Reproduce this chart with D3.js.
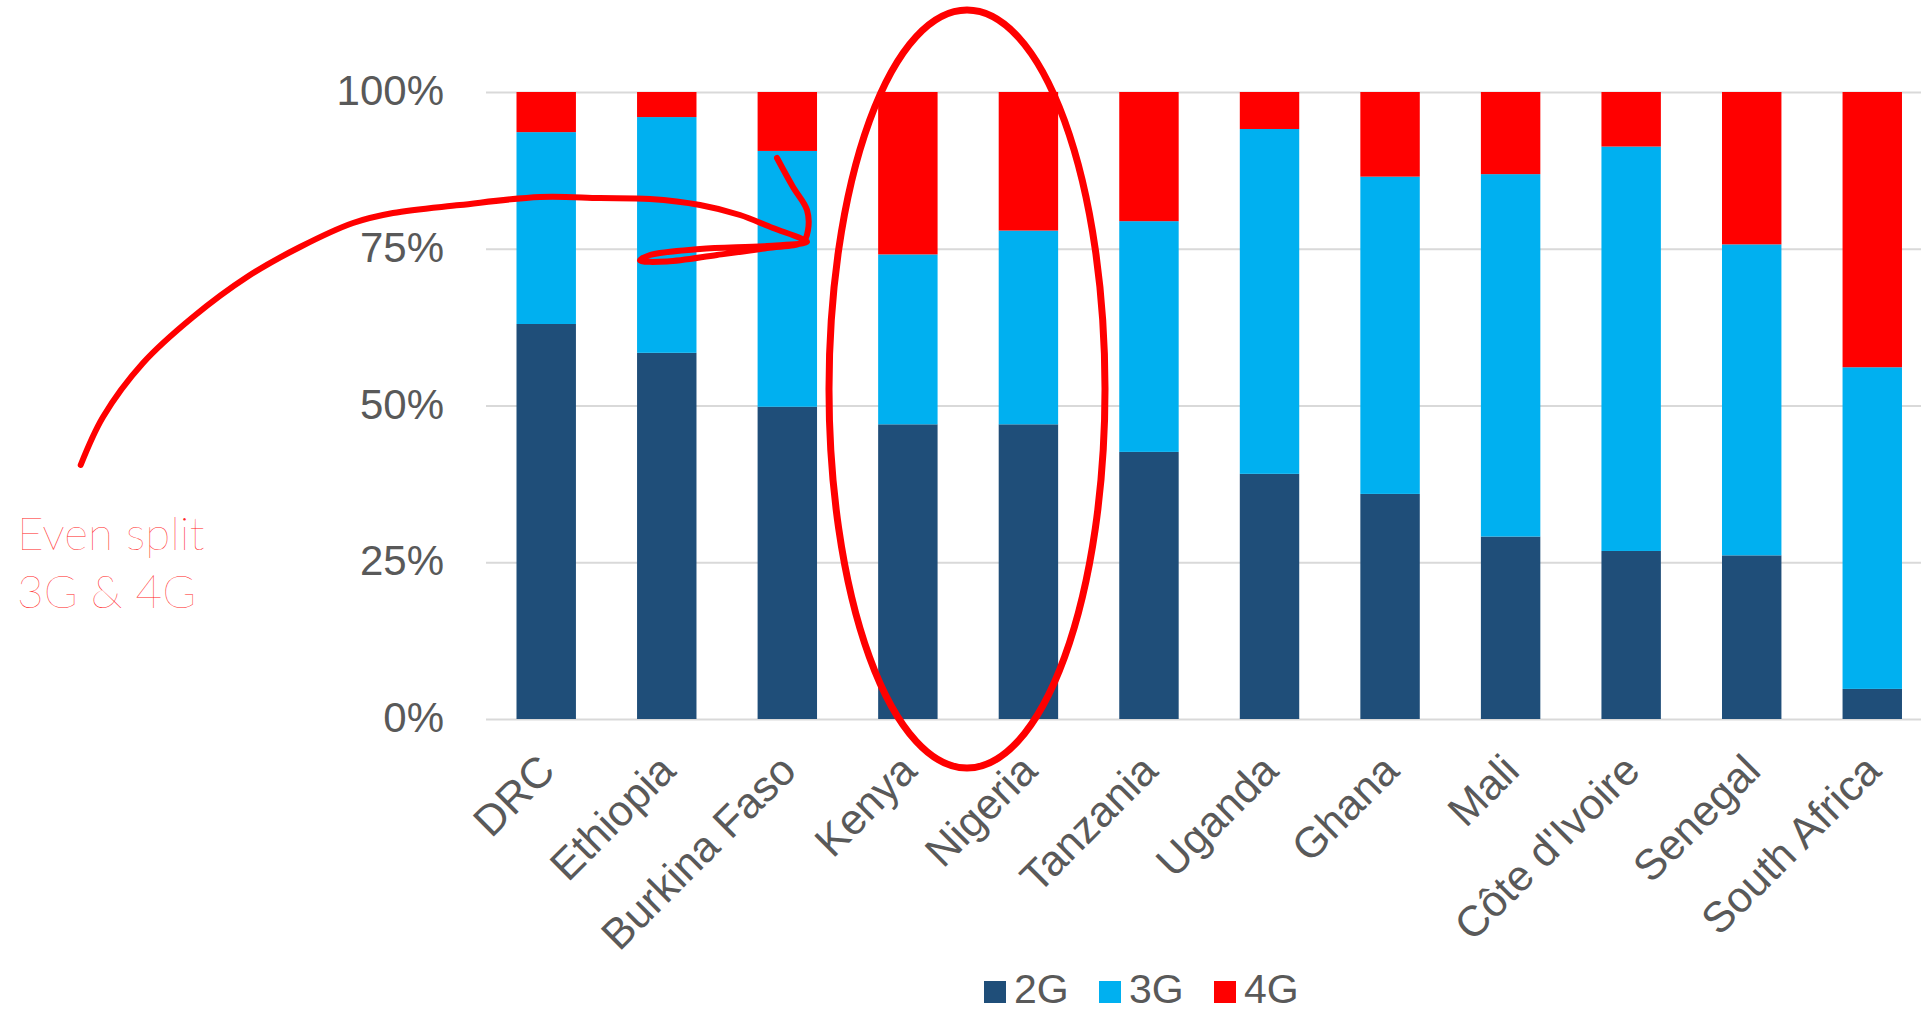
<!DOCTYPE html>
<html>
<head>
<meta charset="utf-8">
<script src="https://cdn.jsdelivr.net/npm/d3@7/dist/d3.min.js"></script>
<style>
  html, body { margin: 0; padding: 0; background: #ffffff; }
  svg { display: block; }
  .axis text { font-family: "Liberation Sans", Arial, Helvetica, sans-serif; fill: #595959; }
</style>
</head>
<body>
<svg id="chart" width="1921" height="1013"></svg>
<script>
// Mobile connection share by technology, per country (%)
const categories = ["DRC", "Ethiopia", "Burkina Faso", "Kenya", "Nigeria", "Tanzania",
                    "Uganda", "Ghana", "Mali", "Côte d'Ivoire", "Senegal", "South Africa"];
const share2G = [63.0, 58.4, 49.8, 47.0, 47.0, 42.6, 39.1, 35.9, 29.1, 26.8, 26.1, 4.8];
const share3G = [30.6, 37.6, 40.8, 27.1, 30.9, 36.8, 55.0, 50.6, 57.8, 64.5, 49.6, 51.3];
const share4G = [6.4, 4.0, 9.4, 25.9, 22.1, 20.6, 5.9, 13.5, 13.1, 8.7, 24.3, 43.9];
const seriesNames = ["2G", "3G", "4G"];
const yTicks = [0, 25, 50, 75, 100];
const noteLines = ["Even split", "3G & 4G"];

const colors = { "2G": "#1F4E79", "3G": "#00B0F0", "4G": "#FF0000" };

const svg = d3.select("#chart");
const W = 1921;

// plot area (the last band runs a little past the right edge)
const plotLeft = 486, bandStep = 120.54;
const plotTop = 92, plotBottom = 719;

const rows = categories.map((c, i) => ({ country: c, "2G": share2G[i], "3G": share3G[i], "4G": share4G[i] }));

const x = d3.scaleBand()
  .domain(categories)
  .range([plotLeft, plotLeft + bandStep * categories.length])
  .paddingInner(0.507)
  .paddingOuter(0.253);

const y = d3.scaleLinear().domain([0, 100]).range([plotBottom, plotTop]);

// gridlines + y labels
const yAxis = svg.append("g")
  .attr("class", "axis y-axis")
  .attr("transform", `translate(${plotLeft},0)`)
  .call(d3.axisLeft(y)
    .tickValues(yTicks)
    .tickFormat(d => d + "%")
    .tickSizeInner(-(W - plotLeft + 20))
    .tickSizeOuter(0)
    .tickPadding(42));
yAxis.select(".domain").remove();
yAxis.selectAll(".tick line").attr("stroke", "#D9D9D9").attr("stroke-width", 2);
yAxis.selectAll(".tick text").style("font-size", "42px").attr("dy", "0.30em");

// stacked bars
const stack = d3.stack().keys(seriesNames)(rows);
svg.append("g").selectAll("g")
  .data(stack)
  .join("g")
  .attr("fill", s => colors[s.key])
  .selectAll("rect")
  .data(s => s)
  .join("rect")
  .attr("x", d => x(d.data.country))
  .attr("width", x.bandwidth())
  .attr("y", d => y(d[1]))
  .attr("height", d => y(d[0]) - y(d[1]));

// category labels
const xAxis = svg.append("g")
  .attr("class", "axis x-axis")
  .attr("transform", `translate(0,${plotBottom})`)
  .call(d3.axisBottom(x).tickSize(0));
xAxis.select(".domain").remove();
xAxis.selectAll(".tick text")
  .style("font-size", "43px")
  .attr("text-anchor", "end")
  .attr("x", 0).attr("y", 0).attr("dy", 0)
  .attr("transform", "translate(11,54) rotate(-45)");

// legend
const legend = svg.append("g").attr("class", "axis legend");
const legendItems = legend.selectAll("g")
  .data(seriesNames)
  .join("g")
  .attr("transform", (d, i) => `translate(${984 + i * 115},0)`);
legendItems.append("rect")
  .attr("x", 0).attr("y", 981)
  .attr("width", 22).attr("height", 22)
  .attr("fill", d => colors[d]);
legendItems.append("text")
  .attr("x", 30).attr("y", 1003)
  .style("font-size", "41px")
  .text(d => d);

// hand-drawn highlight around Kenya and Nigeria
const note = svg.append("g").attr("class", "note");
note.append("ellipse")
  .attr("cx", 967).attr("cy", 389)
  .attr("rx", 138).attr("ry", 379)
  .attr("fill", "none")
  .attr("stroke", "#FF0000")
  .attr("stroke-width", 7);

const arrowPath = [[80.7, 465], [103, 417], [143, 363], [193, 317], [247, 277], [300, 247],
  [353, 223], [393, 213], [460, 205], [540, 197], [600, 198], [650, 199], [700, 205],
  [740, 215], [773, 228], [800, 238], [807, 242], [767, 246], [700, 249], [650, 255],
  [640, 260.5], [667, 261.5], [717, 255], [767, 248], [803, 242], [808, 230], [807, 210],
  [793, 187], [777, 158]];
note.append("path")
  .attr("d", d3.line().curve(d3.curveCatmullRom.alpha(0.5))(arrowPath))
  .attr("fill", "none")
  .attr("stroke", "#FF0000")
  .attr("stroke-width", 6)
  .attr("stroke-linecap", "round")
  .attr("stroke-linejoin", "round");

note.selectAll("text")
  .data(noteLines)
  .join("text")
  .attr("x", 17)
  .attr("y", (d, i) => 550 + i * 58)
  .attr("font-family", "Lato, 'Open Sans', sans-serif")
  .attr("font-weight", 200)
  .attr("font-size", 46)
  .attr("fill", "#FF2424")
  .text(d => d);
</script>
</body>
</html>
